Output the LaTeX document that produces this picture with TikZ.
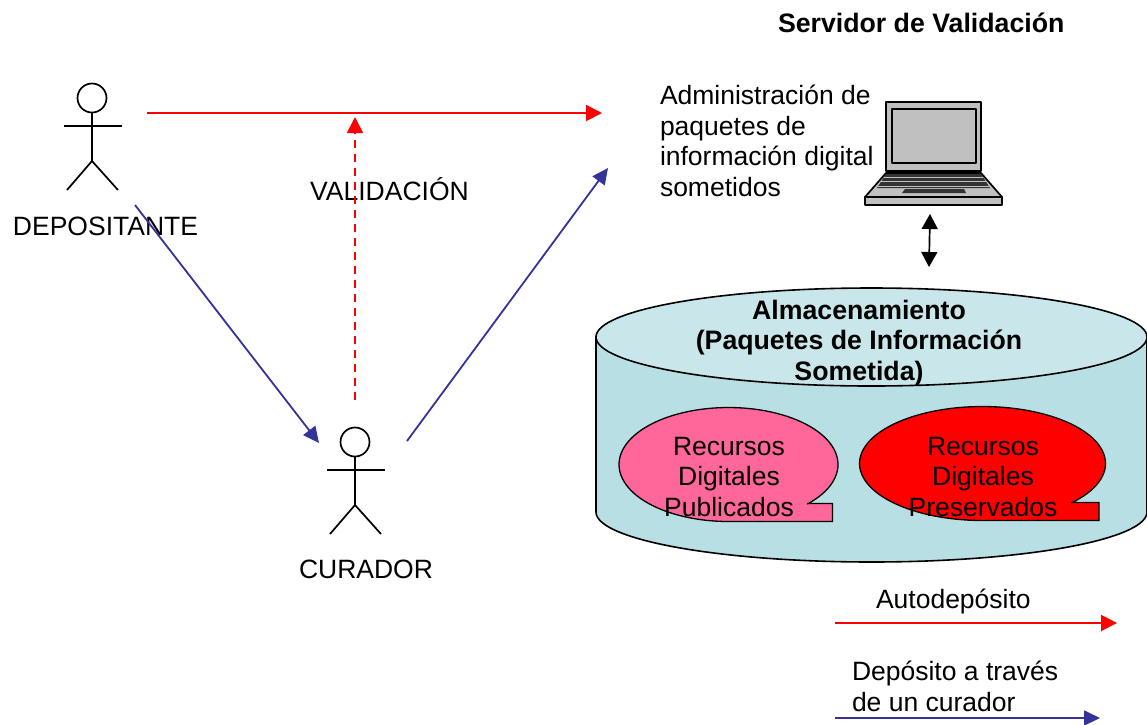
\documentclass[tikz,border=0pt]{standalone}
\usepackage{fontspec}
\setmainfont{Liberation Sans}
\usetikzlibrary{arrows.meta}
\definecolor{tealtop}{HTML}{C9E7EA}
\definecolor{tealbody}{HTML}{B8DFE3}
\definecolor{pinkfill}{HTML}{FF6699}
\definecolor{blueline}{HTML}{333399}
\definecolor{lapgray}{HTML}{C0C0C0}
\tikzset{
  lbl/.style={inner sep=0pt,outer sep=0pt,font=\fontsize{26.5}{30.5}\selectfont,text=black},
  boldlbl/.style={lbl,font=\fontsize{26.7}{30.5}\selectfont\bfseries},
  figure line/.style={draw=black,line width=1.7pt},
  redarrow/.style={draw=red,line width=1.8pt,-{Triangle[length=16pt,width=16pt]}},
  bluearrow/.style={draw=blueline,line width=1.8pt,-{Triangle[length=16pt,width=15pt]}},
  outline/.style={draw=black,line width=1.6pt},
  lap/.style={draw=black,line width=1.7pt,fill=lapgray,line join=round},
}
\newcommand{\stickman}[2]{%
  \draw[figure line] (#1,#2) circle (14.5);
  \draw[figure line] (#1,#2+15) -- (#1,#2+63);
  \draw[figure line] (#1-28,#2+28) -- (#1+30,#2+28);
  \draw[figure line] (#1-25,#2+92) -- (#1,#2+63) -- (#1+26,#2+92);
}
\begin{document}
\begin{tikzpicture}[x=1pt,y=-1pt]
\useasboundingbox (0,0) rectangle (1147,724);
\clip (0,0) rectangle (1147,724);
\fill[white] (0,0) rectangle (1147,724);

% cylinder
\path[outline,fill=tealbody] (596,337) -- (596,512)
  -- plot[domain=180:0,samples=80] ({871.5+275.5*cos(\x)},{512+50*sin(\x)})
  -- (1147,337) -- cycle;
\path[outline,fill=tealtop] (871.5,337) ellipse [x radius=275.5,y radius=49];

% callouts
\path[outline,line width=1.3pt,fill=pinkfill] plot[domain=90:404,samples=100] ({728.5+109.5*cos(\x)},{464.5+57*sin(\x)})
  -- (808,503.5) -- (832.5,503.5) -- (832.5,521.5) -- cycle;
\path[outline,line width=1.3pt,fill=red] plot[domain=90:404,samples=100] ({982.5+123*cos(\x)},{463.5+57*sin(\x)})
  -- (1072,502.5) -- (1099,502.5) -- (1099,520.5) -- cycle;

% stick figures
\stickman{92}{98}
\stickman{355}{442}

% laptop
\draw[lap] (886,102) rectangle (981,171);
\draw[lap] (892,109) rectangle (976,163);
\draw[lap] (886,173) -- (981,173) -- (1002,197) -- (865,197) -- cycle;
\draw[lap] (865,197) rectangle (1002,205);
\fill[black!80] (886,174) -- (981,174) -- (990,188) -- (877,188) -- cycle;
\draw[lapgray,line width=.9pt] (884,177.5) -- (983,177.5) (881,181) -- (986,181);
\draw[lapgray,line width=.9pt] (878,186) -- (989,186);
\fill[black!80] (905,189) -- (964,189) -- (966,193) -- (902,193) -- cycle;

% text
\node[boldlbl,anchor=base west] (title) at (778,32) {Servidor de Validación};
\node[lbl,anchor=north west,align=left] (admin) at (660,85) {Administración de\\paquetes de\\información digital\\sometidos};
\node[lbl,anchor=base] (dep) at (105.5,235) {DEPOSITANTE};
\node[lbl,anchor=base] (cur) at (366,578) {CURADOR};
\node[lbl,anchor=base] (val) at (389.5,200) {VALIDACIÓN};
\node[boldlbl,anchor=north,align=center] (alma) at (859,300) {Almacenamiento\\(Paquetes de Información\\Sometida)};
\node[lbl,anchor=north,align=center] (pub) at (729,437) {Recursos\\Digitales\\Publicados};
\node[lbl,anchor=north,align=center] (pres) at (983,437) {Recursos\\Digitales\\Preservados};
\node[lbl,anchor=base west] (auto) at (876,608) {Autodepósito};
\node[lbl,anchor=north west,align=left] (dep2) at (852,661) {Depósito a través\\de un curador};

% connector end points
\coordinate (depOut) at (147,113);
\coordinate (srvIn) at (602,113);
\coordinate (curUp) at (355,400);
\coordinate (valTop) at (355,117);
\coordinate (depDown) at (135,205);
\coordinate (curIn) at (319,443);
\coordinate (curOut) at (407,441);
\coordinate (srvIn2) at (608,168);
\coordinate (lapDown) at (930,214);
\coordinate (cylUp) at (929,267);
\coordinate (legR1) at (835,623);
\coordinate (legR2) at (1117,623);
\coordinate (legB1) at (835,718);
\coordinate (legB2) at (1100,718);

\draw[redarrow] (depOut) -- (srvIn);
\draw[redarrow,dash pattern=on 8pt off 6pt] (curUp) -- (valTop);
\draw[bluearrow] (depDown) -- (curIn);
\draw[bluearrow] (curOut) -- (srvIn2);
\draw[line width=1.7pt,{Triangle[length=15pt,width=16pt]}-{Triangle[length=15pt,width=16pt]}] (lapDown) -- (cylUp);
\draw[redarrow] (legR1) -- (legR2);
\draw[bluearrow] (legB1) -- (legB2);
\end{tikzpicture}
\end{document}
